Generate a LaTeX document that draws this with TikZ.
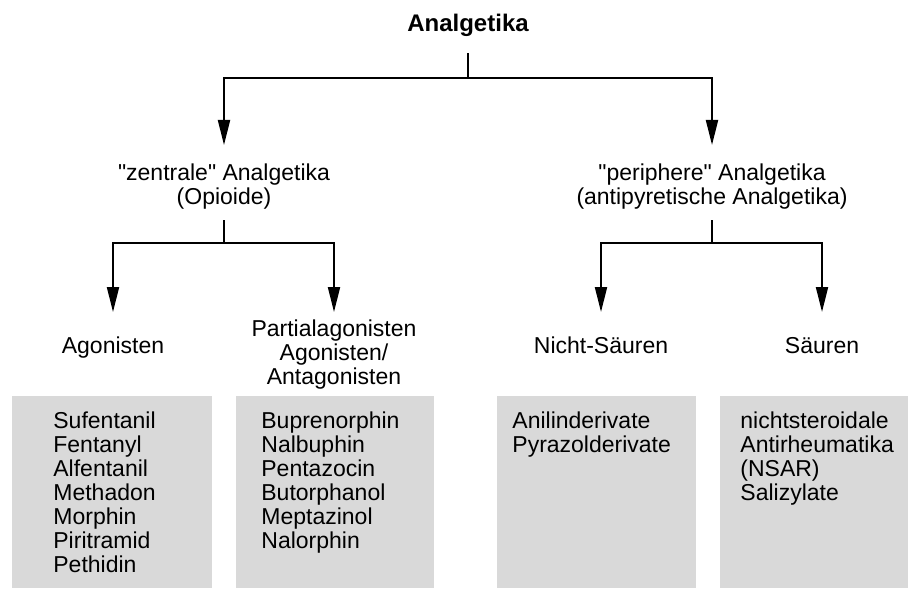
\documentclass[tikz,border=0pt]{standalone}
\usepackage{fontspec}
\setmainfont{Liberation Sans}[Ligatures=TeXOff]
\usepackage{xcolor}
\usetikzlibrary{positioning,arrows.meta}
\definecolor{grauBox}{RGB}{217,217,217}

\begin{document}
\begin{tikzpicture}[
        x=0.5pt, y=-0.5pt,
        lbl/.style={inner sep=0, align=center, font=\fontsize{11.5}{12}\selectfont},
        lst/.style={inner sep=0, align=left, anchor=north west,
                    font=\fontsize{11.5}{12}\selectfont},
        feld/.style={fill=grauBox},
        linie/.style={line width=1pt},
        pfeil/.style={line width=1pt, -{Triangle[length=12.5pt,width=6pt]}}
    ]
        \useasboundingbox (0,0) rectangle (908,588);
        % Ebenen
        \coordinate (lv1) at (0,145);
        \coordinate (lv2) at (0,312);
        \coordinate (j0) at (468,78);
        \coordinate (j1) at (224,243);
        \coordinate (j2) at (712,243);
        % Knoten
        \node[lbl, anchor=base, font=\fontsize{12}{12}\selectfont\bfseries] (analg) at (468,32) {Analgetika};
        \node[lbl] (zentral) at (224,187) {"zentrale" Analgetika\\(Opioide)};
        \node[lbl] (periph) at (712,187) {"periphere" Analgetika\\(antipyretische Analgetika)};
        \node[lbl, anchor=base] (agon) at (113,353) {Agonisten};
        \node[lbl] (partial) at (334,355) {Partialagonisten\\Agonisten/\\Antagonisten};
        \node[lbl, anchor=base] (nicht) at (601,353) {Nicht-Säuren};
        \node[lbl, anchor=base] (saeuren) at (822,353) {Säuren};
        % Felder
        \fill[feld] (12,396) rectangle (212,588);
        \fill[feld] (236,396) rectangle (434,588);
        \fill[feld] (497,396) rectangle (696,588);
        \fill[feld] (720,396) rectangle (908,588);
        \node[lst] (listAgon) at (53,411) {Sufentanil\\Fentanyl\\Alfentanil\\Methadon\\Morphin\\Piritramid\\Pethidin};
        \node[lst] (listPartial) at (261,411) {Buprenorphin\\Nalbuphin\\Pentazocin\\Butorphanol\\Meptazinol\\Nalorphin};
        \node[lst] (listNicht) at (512,411) {Anilinderivate\\Pyrazolderivate};
        \node[lst] (listSaeuren) at (740,411) {nichtsteroidale\\Antirheumatika\\(NSAR)\\Salizylate};
        % Verbindungen
        \draw[linie, shorten <=8pt] (analg) -- (j0);
        \draw[pfeil] (j0) -| (zentral |- lv1);
        \draw[pfeil] (j0) -| (periph |- lv1);
        \draw[linie, shorten <=5pt] (zentral) -- (j1);
        \draw[linie, shorten <=5pt] (periph) -- (j2);
        \draw[pfeil] (j1) -| (agon |- lv2);
        \draw[pfeil] (j1) -| (partial |- lv2);
        \draw[pfeil] (j2) -| (nicht |- lv2);
        \draw[pfeil] (j2) -| (saeuren |- lv2);
    \end{tikzpicture}
\end{document}
